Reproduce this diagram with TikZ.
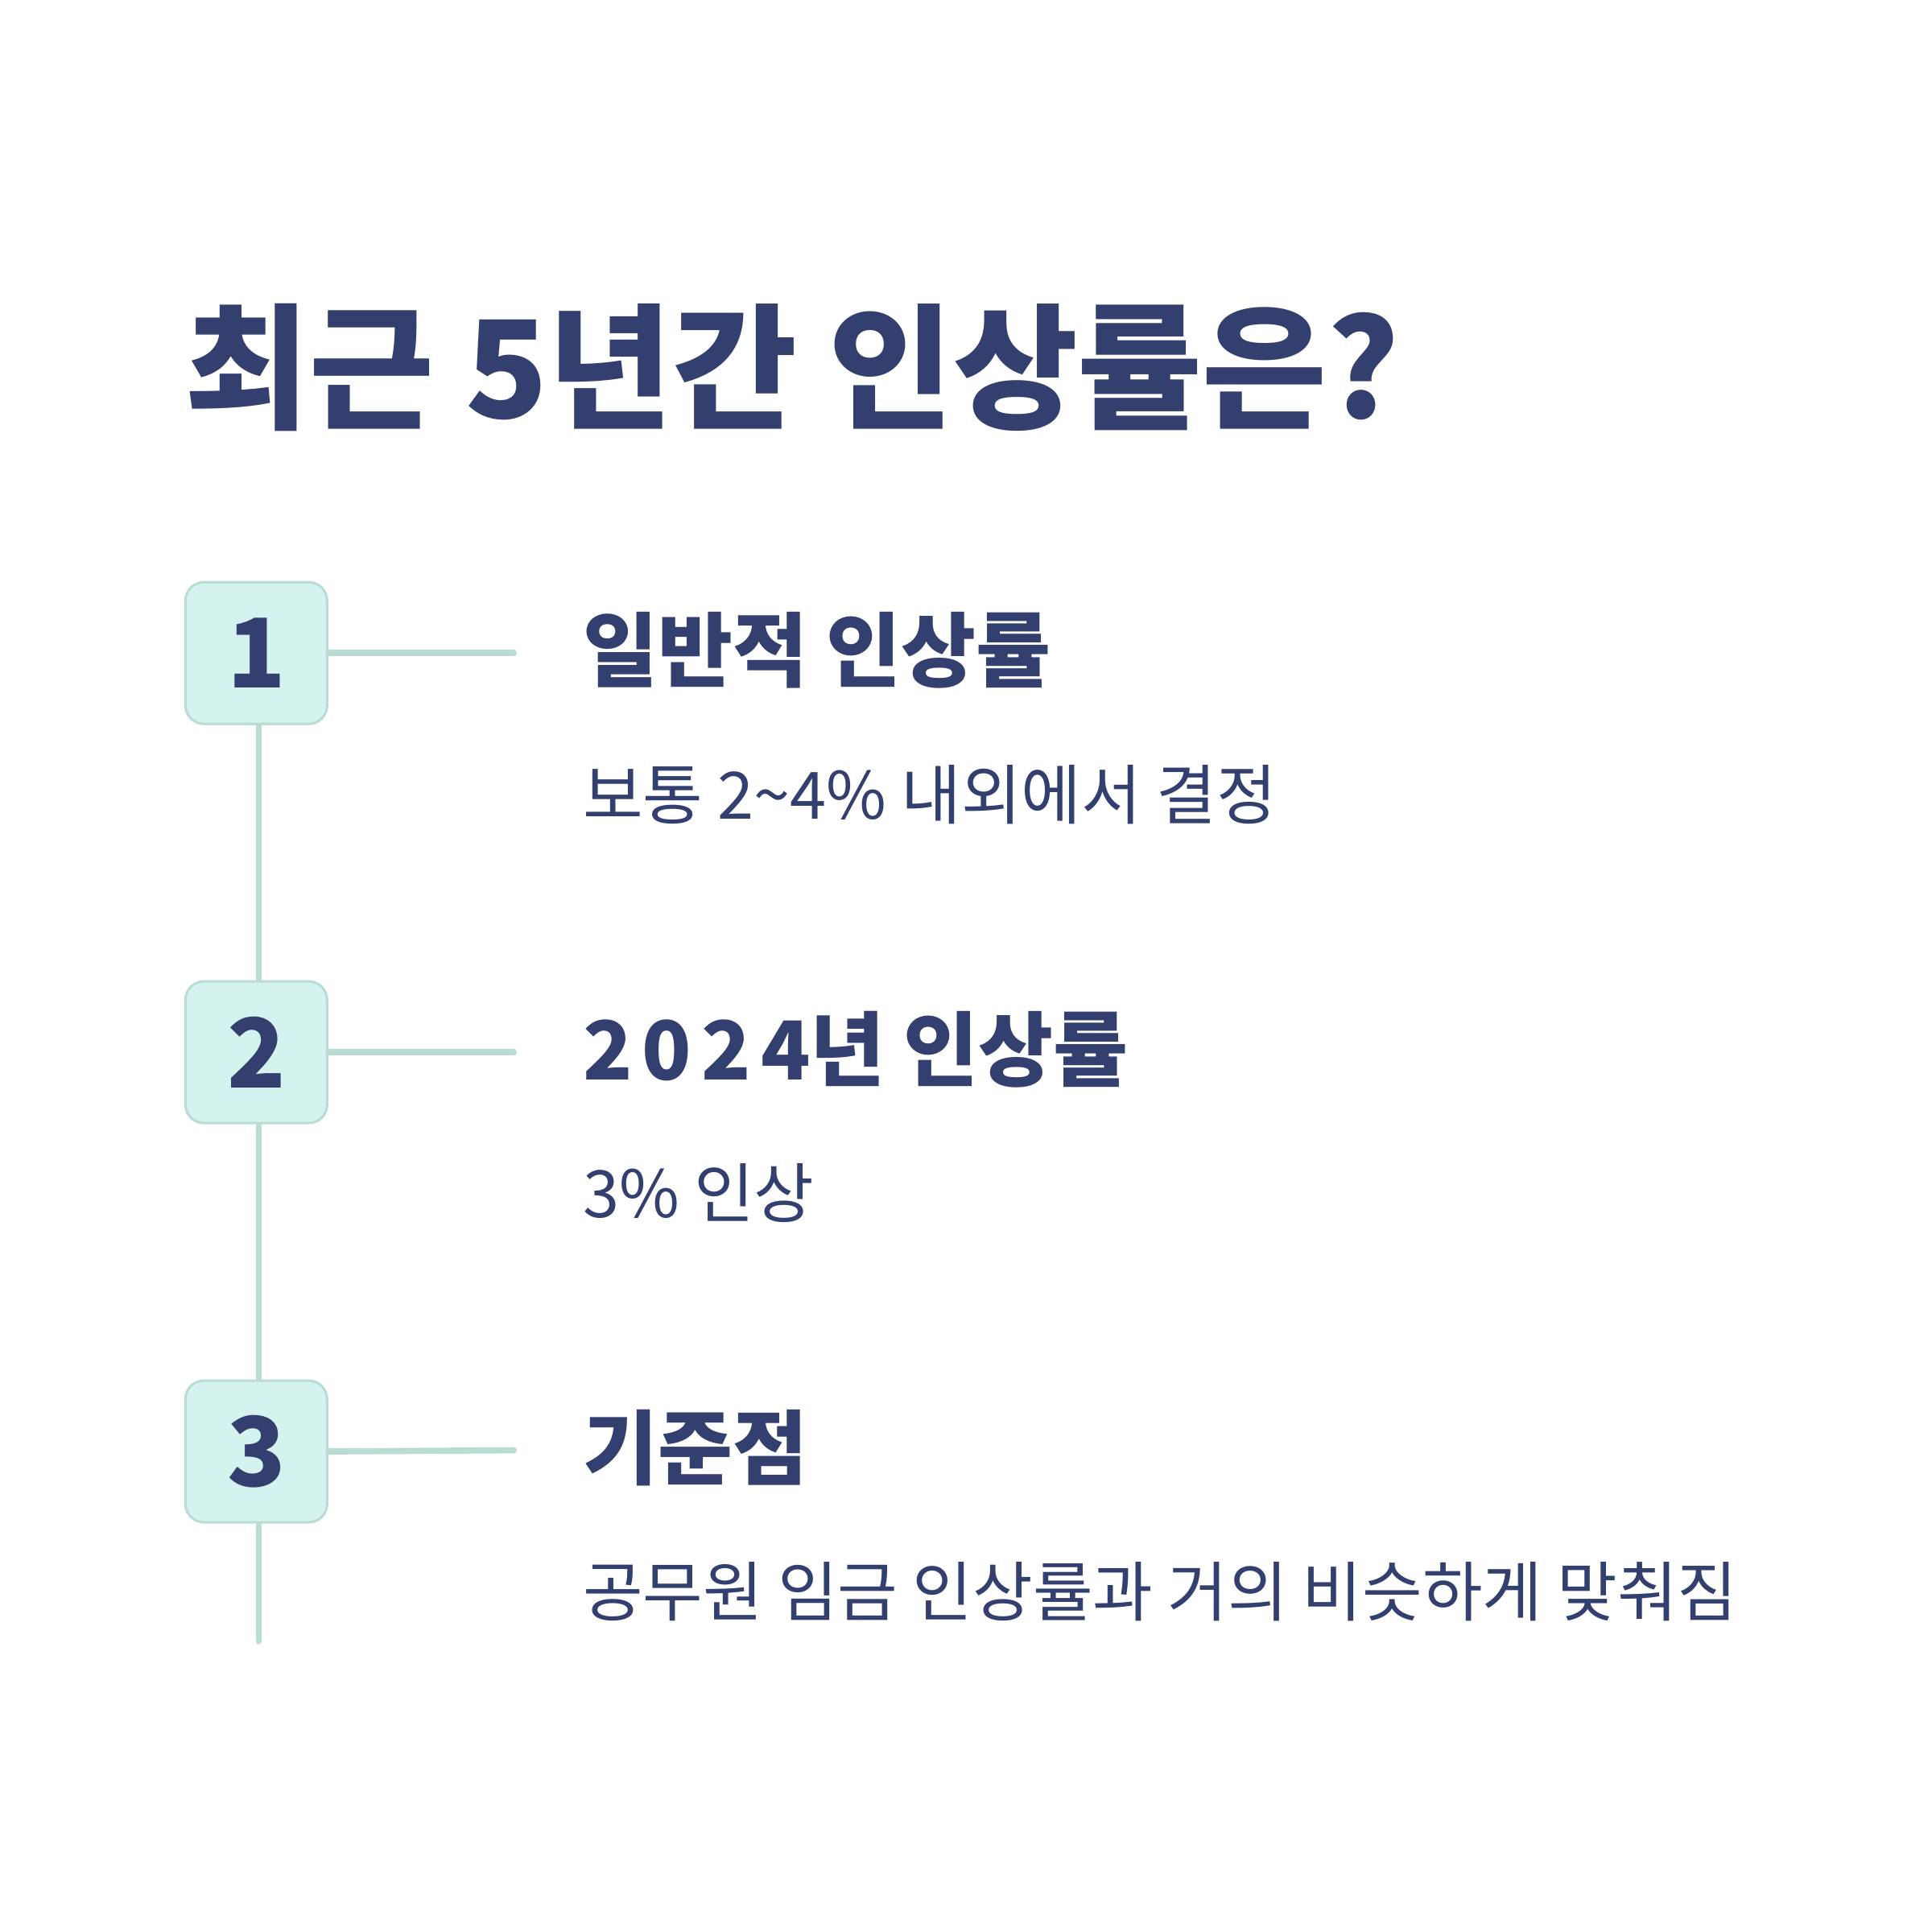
\documentclass[tikz,border=0pt]{standalone}
\usepackage{fontspec}
\newfontfamily\kr{Noto Sans CJK KR}
\newfontfamily\krwide[LetterSpace=12]{Noto Sans CJK KR}
\definecolor{navy}{HTML}{333F6E}
\definecolor{boxfill}{HTML}{D5F3EE}
\definecolor{lineC}{HTML}{B9DCD5}
\tikzset{
  numbox/.style={draw=lineC,line width=2pt,fill=boxfill,rounded corners=15pt,minimum width=115pt,minimum height=115pt,inner sep=0pt,font=\kr\bfseries\fontsize{78}{80}\selectfont,text=navy},
  conn/.style={draw=lineC,line width=5pt,line cap=round},
  head/.style={anchor=west,inner sep=0pt,text=navy,font=\kr\bfseries\fontsize{66}{70}\selectfont},
  sub/.style={anchor=west,inner sep=0pt,text=navy,font=\kr\fontsize{53}{56}\selectfont}
}
\begin{document}
\begin{tikzpicture}[x=1pt,y=-1pt]
\useasboundingbox[fill=white] (0,0) rectangle (1568,1568);
\node[anchor=west,inner sep=0pt,text=navy,font=\kr\bfseries\fontsize{110}{112}\selectfont] (title) at (150,298) {최근 5년간 인상률은?};
\coordinate (top) at (210,588);
\coordinate (bot) at (210,1332);
\draw[conn] (top) -- (bot);
\node[numbox] (b1) at (208,530) {1};
\node[numbox] (b2) at (208,854) {2};
\node[numbox] (b3) at (208,1178) {3};
\coordinate (e1) at (417,530);
\coordinate (e2) at (417,854);
\coordinate (e3) at (417,1177);
\draw[conn] (b1.east) -- (e1);
\draw[conn] (b2.east) -- (e2);
\draw[conn] (b3.east) -- (e3);
\node[head] (h1) at (473,528) {일반적 인상률};
\node[sub] (s1) at (473,645) {보통 2\textasciitilde4\% 내외에서 결정};
\node[head] (h2) at (473,852) {{\krwide 2024}년 인상률};
\node[sub] (s2) at (473,968) {3\% 인상};
\node[head] (h3) at (473,1175) {기준점};
\node[sub] (s3) at (473,1292) {공무원 임금 인상률과 거의 비슷하게 맞춰짐};
\end{tikzpicture}
\end{document}
